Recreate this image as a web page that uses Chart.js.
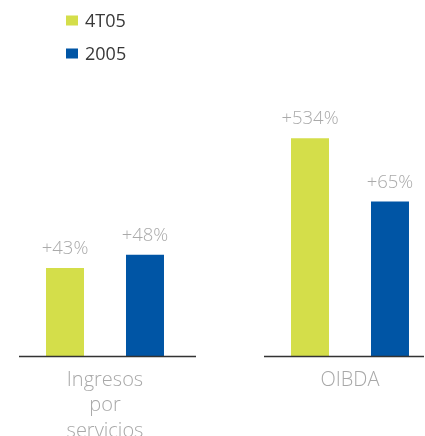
<!DOCTYPE html>
<html>
<head>
<meta charset="utf-8">
<script src="https://cdn.jsdelivr.net/npm/chart.js@4"></script>
<style>
html,body{margin:0;padding:0;background:#fff;overflow:hidden;}
#wrap{position:relative;width:425px;height:462px;}
</style>
</head>
<body>
<div id="wrap"><canvas id="c" width="425" height="462"></canvas></div>
<script>
const categories = [["Ingresos", "por", "servicios"], "OIBDA"];
const seriesNames = ["4T05", "2005"];
const values4T05 = [88, 217];
const values2005 = [101, 154];
const labels4T05 = ["+43%", "+534%"];
const labels2005 = ["+48%", "+65%"];
const colors = ["#d4de4a", "#0055a5"];

const FONT = "'Open Sans', 'DejaVu Sans', sans-serif";

const valueLabelPlugin = {
  id: 'valueLabels',
  afterDatasetsDraw(chart) {
    const ctx = chart.ctx;
    ctx.save();
    ctx.font = "300 18.5px " + FONT;
    ctx.fillStyle = "#aaaaaa";
    ctx.textAlign = "center";
    ctx.textBaseline = "alphabetic";
    chart.data.datasets.forEach((ds, di) => {
      const meta = chart.getDatasetMeta(di);
      meta.data.forEach((bar, i) => {
        ctx.fillText(ds.valueLabels[i], bar.x, bar.y - 14);
      });
    });
    ctx.restore();
  }
};

const baselinePlugin = {
  id: 'groupBaselines',
  afterDatasetsDraw(chart) {
    const ctx = chart.ctx;
    const xs = chart.scales.x;
    const y0 = chart.scales.y.getPixelForValue(0);
    ctx.save();
    ctx.strokeStyle = "#333333";
    ctx.lineWidth = 1.5;
    xs.ticks.forEach((t, i) => {
      const px = xs.getPixelForTick(i);
      ctx.beginPath();
      ctx.moveTo(px - 86, y0);
      ctx.lineTo(Math.min(px + 91, 424), y0);
      ctx.stroke();
    });
    ctx.restore();
  }
};

const legendPlugin = {
  id: 'sideLegend',
  afterDraw(chart) {
    const ctx = chart.ctx;
    ctx.save();
    ctx.font = "18px " + FONT;
    ctx.textBaseline = "alphabetic";
    ctx.textAlign = "left";
    chart.data.datasets.forEach((ds, i) => {
      const top = 15.5 + i * 33;
      ctx.fillStyle = ds.backgroundColor;
      ctx.fillRect(66, top, 12, 10);
      ctx.fillStyle = "#383838";
      ctx.fillText(ds.label, 85, top + 11.5);
    });
    ctx.restore();
  }
};

new Chart(document.getElementById('c'), {
  type: 'bar',
  data: {
    labels: categories,
    datasets: [
      { label: seriesNames[0], data: values4T05, backgroundColor: colors[0], valueLabels: labels4T05, clip: false },
      { label: seriesNames[1], data: values2005, backgroundColor: colors[1], valueLabels: labels2005, clip: false }
    ]
  },
  options: {
    responsive: false,
    animation: false,
    events: [],
    categoryPercentage: 0.653,
    barPercentage: 0.475,
    layout: { padding: { left: 105, right: 75, top: 115, bottom: 7 } },
    plugins: { legend: { display: false }, tooltip: { enabled: false } },
    scales: {
      x: {
        offset: false,
        grid: { display: false, drawTicks: false },
        border: { display: false },
        ticks: {
          padding: 11,
          color: "#a8a8a8",
          font: { family: FONT, size: 20, weight: 300, lineHeight: '25.5px' },
          maxRotation: 0,
          autoSkip: false
        }
      },
      y: {
        display: false,
        min: 0,
        max: 240
      }
    }
  },
  plugins: [valueLabelPlugin, baselinePlugin, legendPlugin]
});
</script>
</body>
</html>
